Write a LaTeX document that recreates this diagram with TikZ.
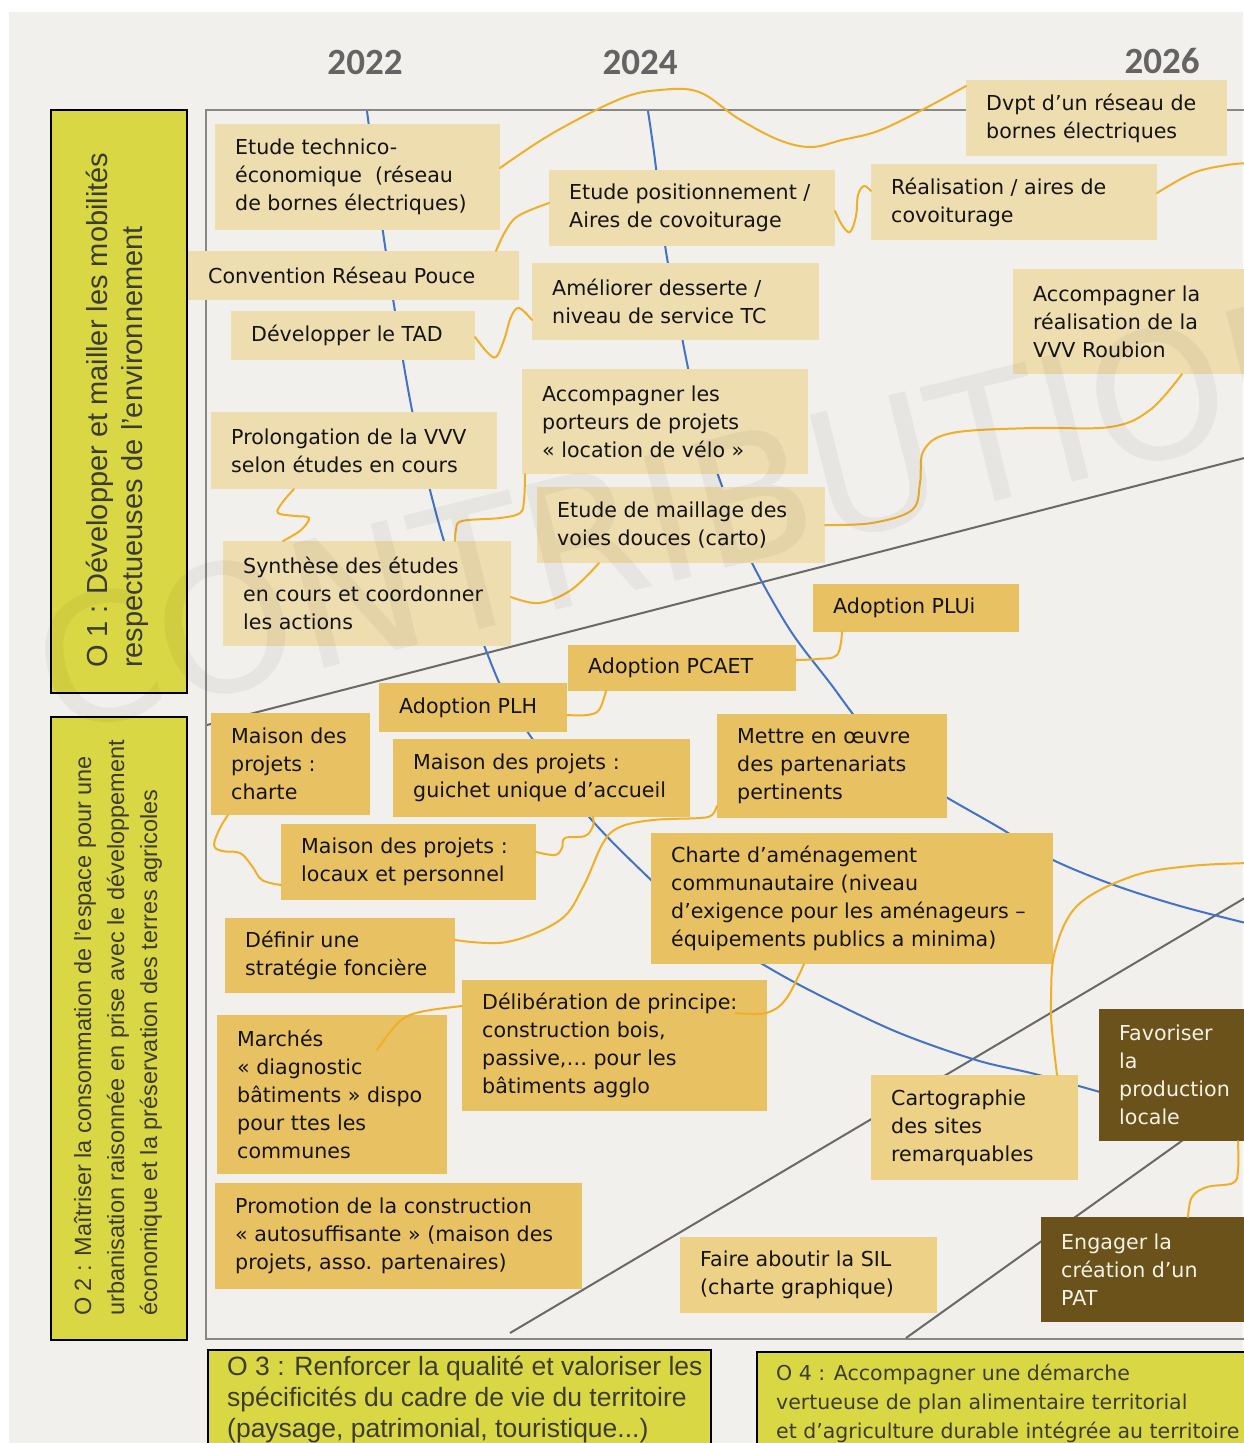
\documentclass[tikz,border=0pt]{standalone}
\usepackage{fontspec}
\setmainfont{DejaVu Sans}
\newfontfamily\libsans{Liberation Sans}
\newfontfamily\carlito{Carlito}
\usetikzlibrary{fit}
\definecolor{cbg}{RGB}{241,240,236}
\definecolor{cbeige}{RGB}{238,221,175}
\definecolor{cgold}{RGB}{232,193,98}
\definecolor{clgold}{RGB}{236,209,134}
\definecolor{cbrown}{RGB}{106,82,26}
\definecolor{cobj}{RGB}{218,215,68}
\definecolor{cobjtext}{RGB}{60,60,50}
\definecolor{corange}{RGB}{240,175,40}
\definecolor{cblue}{RGB}{68,114,196}
\definecolor{cgrayl}{RGB}{105,105,105}
\definecolor{cyear}{RGB}{100,100,100}
\definecolor{ctext}{RGB}{20,20,20}
\definecolor{cwtext}{RGB}{245,242,230}
\tikzset{
  box/.style={inner sep=0pt, outer sep=0pt, draw=none},
  beige/.style={box, fill=cbeige},
  gold/.style={box, fill=cgold},
  lgold/.style={box, fill=clgold},
  brown/.style={box, fill=cbrown},
  txt/.style={anchor=west, inner sep=0pt, align=left, font=\fontsize{20.6}{28}\selectfont, text=ctext},
  wtxt/.style={txt, text=cwtext},
  orng/.style={draw=corange, line width=2pt, line cap=round},
  bluel/.style={draw=cblue, line width=2pt},
  grayl/.style={draw=cgrayl, line width=2pt},
  objbox/.style={fill=cobj, draw=black, line width=2pt, inner sep=0pt},
  objtxt/.style={inner sep=0pt, align=left, text=cobjtext},
  year/.style={font=\carlito\bfseries\fontsize{37}{40}\selectfont, text=cyear, inner sep=0pt},
}
\newcommand\tbox[6]{%
  \node[#2, fit={#4 #5}] (#1) {};
  \node[#3] (#1t) at ([xshift=20pt]#1.west) {#6};
}
\begin{document}
\begin{tikzpicture}[x=1pt,y=-1pt]
\useasboundingbox (0,0) rectangle (1243,1443);
\fill[white] (0,0) rectangle (1243,1443);
\fill[cbg] (9,12) rectangle (1243,1443);

% frame
\draw[draw=cgrayl!80, line width=2pt] (206,110) rectangle (1300,1339);

% gray dividing lines
\draw[grayl] (207,725) -- (1260,454);
\draw[grayl] (510,1333) -- (1260,889);
\draw[grayl] (906,1338) -- (1260,1085);

% blue year curves
\draw[bluel] plot[smooth, tension=0.55] coordinates {(367,111) (383,232) (398,330) (412,410) (430,490) (450,560) (478,630) (505,695) (540,750) (590,818) (651,880) (700,925) (764,965) (817,994) (897,1032) (976,1060) (1035,1074) (1100,1092)};
\draw[bluel] plot[smooth, tension=0.55] coordinates {(648,111) (655,160) (665,245) (675,300) (688,368) (700,420) (718,475) (735,520) (752,563) (790,630) (830,683) (870,735) (920,780) (946,797) (1000,828) (1051,859) (1114,885) (1180,906) (1250,924)};

% O1 boxes
\tbox{tech}{beige}{txt}{(215,124)}{(500,230)}{Etude technico-\\économique\ \ (réseau\\de bornes électriques)}
\tbox{conv}{beige}{txt}{(188,251)}{(519,300)}{Convention Réseau Pouce}
\tbox{tad}{beige}{txt}{(231,311)}{(475,360)}{Développer le TAD}
\tbox{prol}{beige}{txt}{(211,412)}{(497,489)}{Prolongation de la VVV\\selon études en cours}
\tbox{synth}{beige}{txt}{(223,541)}{(511,646)}{Synthèse des études\\en cours et coordonner\\les actions}
\tbox{etpos}{beige}{txt}{(549,170)}{(835,246)}{Etude positionnement /\\Aires de covoiturage}
\tbox{amel}{beige}{txt}{(532,263)}{(819,340)}{Améliorer desserte /\\niveau de service TC}
\tbox{porteurs}{beige}{txt}{(522,369)}{(808,474)}{Accompagner les\\porteurs de projets\\« location de vélo »}
\tbox{maillage}{beige}{txt}{(537,487)}{(825,563)}{Etude de maillage des\\voies douces (carto)}
\tbox{dvpt}{beige}{txt}{(966,80)}{(1227,156)}{Dvpt d’un réseau de\\bornes électriques}
\tbox{real}{beige}{txt}{(871,164)}{(1157,240)}{Réalisation / aires de\\covoiturage}
\tbox{roubion}{beige}{txt}{(1013,269)}{(1260,374)}{Accompagner la\\réalisation de la\\VVV Roubion}

% O2 boxes
\tbox{plui}{gold}{txt}{(813,584)}{(1019,632)}{Adoption PLUi}
\tbox{pcaet}{gold}{txt}{(568,645)}{(796,691)}{Adoption PCAET}
\tbox{plh}{gold}{txt}{(379,683)}{(567,732)}{Adoption PLH}
\tbox{mcharte}{gold}{txt}{(211,713)}{(370,815)}{Maison des\\projets :\\charte}
\tbox{guichet}{gold}{txt}{(393,739)}{(690,817)}{Maison des projets :\\guichet unique d’accueil}
\tbox{mettre}{gold}{txt}{(717,714)}{(947,818)}{Mettre en œuvre\\des partenariats\\pertinents}
\tbox{locaux}{gold}{txt}{(281,824)}{(536,900)}{Maison des projets :\\locaux et personnel}
\tbox{charte}{gold}{txt}{(651,833)}{(1053,964)}{Charte d’aménagement\\communautaire (niveau\\d’exigence pour les aménageurs –\\équipements publics a minima)}
\tbox{defin}{gold}{txt}{(225,918)}{(455,993)}{Définir une\\stratégie foncière}
\tbox{delib}{gold}{txt}{(462,980)}{(767,1111)}{Délibération de principe:\\construction bois,\\passive,… pour les\\bâtiments agglo}
\tbox{marches}{gold}{txt}{(217,1015)}{(447,1174)}{Marchés\\« diagnostic\\bâtiments » dispo\\pour ttes les\\communes}
\tbox{promo}{gold}{txt}{(215,1183)}{(582,1289)}{Promotion de la construction\\« autosuffisante » (maison des\\projets, asso. partenaires)}

% O3 boxes
\tbox{carto}{lgold}{txt}{(871,1075)}{(1078,1180)}{Cartographie\\des sites\\remarquables}
\tbox{sil}{lgold}{txt}{(680,1237)}{(937,1313)}{Faire aboutir la SIL\\(charte graphique)}

% O4 boxes
\tbox{favor}{brown}{wtxt}{(1099,1009)}{(1260,1141)}{Favoriser\\la\\production\\locale}
\tbox{engager}{brown}{wtxt}{(1041,1217)}{(1260,1322)}{Engager la\\création d’un\\PAT}

% orange links
\coordinate (oStart) at (377,1050);
\coordinate (pStart) at (735,1013);
\coordinate (qEnd) at (1250,863);
\coordinate (dEnd) at (1250,163);
\draw[orng] plot[smooth, tension=0.6] coordinates {(tech.east |- 0,168) (553,133) (620,99) (660,90) (699,92) (739,119) (779,140) (811,147) (842,140) (878,131) (922,110) (dvpt.west |- 0,86)};
\draw[orng] plot[smooth, tension=0.6] coordinates {(conv.north -| 496,0) (505,232) (518,216) (etpos.west |- 0,203)};
\draw[orng] plot[smooth, tension=0.6] coordinates {(etpos.east |- 0,211) (842,225) (850,232) (856,216) (858,195) (864,186) (real.west |- 0,191)};
\draw[orng] plot[smooth, tension=0.6] coordinates {(real.east |- 0,193) (1193,173) (1227,165) (dEnd)};
\draw[orng] plot[smooth, tension=0.6] coordinates {(tad.east |- 0,337) (487,352) (496,357) (504,340) (511,317) (519,308) (amel.west |- 0,320)};
\draw[orng] plot[smooth, tension=0.6] coordinates {(prol.south -| 294,0) (282,503) (278,513) (295,516) (309,518) (301,530) (synth.north -| 283,0)};
\draw[orng] plot[smooth, tension=0.6] coordinates {(porteurs.south -| 525,0) (524,500) (520,513) (500,518) (462,521) (456,530) (synth.north -| 455,0)};
\draw[orng] plot[smooth, tension=0.6] coordinates {(synth.east |- 0,597) (539,603) (571,590) (maillage.south -| 599,0)};
\draw[orng] plot[smooth, tension=0.6] coordinates {(maillage.east |- 0,525) (872,523) (912,510) (920,483) (924,450) (952,433) (1031,428) (1110,427) (1150,410) (roubion.south -| 1182,0)};
\draw[orng] plot[smooth, tension=0.6] coordinates {(plui.south -| 842,0) (837,655) (817,659) (pcaet.east |- 0,660)};
\draw[orng] plot[smooth, tension=0.6] coordinates {(pcaet.south -| 606,0) (599,710) (587,715) (plh.east |- 0,715)};
\draw[orng] plot[smooth, tension=0.6] coordinates {(mcharte.south -| 228,0) (220,828) (214,845) (222,851) (240,853) (252,866) (262,880) (locaux.west |- 0,885)};
\draw[orng] plot[smooth, tension=0.6] coordinates {(locaux.east |- 0,852) (555,855) (562,848) (565,838) (585,836) (593,826) (guichet.south -| 593,0)};
\draw[orng] plot[smooth, tension=0.6] coordinates {(defin.east |- 0,940) (507,942) (560,920) (583,887) (603,843) (620,827) (653,820) (700,818) (712,815) (mettre.west |- 0,806)};
\draw[orng] plot[smooth, tension=0.6] coordinates {(oStart) (399,1022) (420,1012) (delib.west |- 0,1006)};
\draw[orng] plot[smooth, tension=0.6] coordinates {(pStart) (766,1013) (786,999) (charte.south -| 804,0)};
\draw[orng] plot[smooth, tension=0.6] coordinates {(carto.north -| 1057,0) (1052,1030) (1051,1000) (1055,951) (1078,905) (1133,876) (1190,866) (qEnd)};
\draw[orng] plot[smooth, tension=0.6] coordinates {(favor.south -| 1238,0) (1238,1170) (1233,1183) (1207,1187) (1192,1197) (engager.north -| 1188,0)};

% objective boxes
\node[objbox, fit={(51,110) (187,693)}] (o1) {};
\node[objtxt, rotate=90, anchor=west, font=\libsans\fontsize{29}{35}\selectfont] (o1t) at (117,668) {O 1 : Développer et mailler les mobilités\\respectueuses de l’environnement};
\node[objbox, fit={(51,717) (187,1340)}] (o2) {};
\node[objtxt, rotate=90, anchor=west, font=\libsans\fontsize{23.5}{33}\selectfont] (o2t) at (118,1316) {O 2 : Maîtriser la consommation de l’espace pour une\\urbanisation raisonnée en prise avec le développement\\économique et la préservation des terres agricoles};
\node[objbox, fit={(208,1350) (711,1470)}] (o3) {};
\node[objtxt, anchor=north west, font=\libsans\fontsize{26.5}{31}\selectfont] (o3t) at (227,1356) {O 3 : Renforcer la qualité et valoriser les\\spécificités du cadre de vie du territoire\\(paysage, patrimonial, touristique...)};
\node[objbox, fit={(757,1352) (1270,1470)}] (o4) {};
\node[objtxt, anchor=north west, font=\fontsize{20.5}{29}\selectfont] (o4t) at (776,1364) {O 4 : Accompagner une démarche\\vertueuse de plan alimentaire territorial\\et d’agriculture durable intégrée au territoire};

% years
\node[year] (y22) at (365,62) {2022};
\node[year] (y24) at (640,62) {2024};
\node[year] (y26) at (1162,61) {2026};

% watermark
\node[inner sep=0pt, rotate=14, anchor=base west, font=\fontsize{176}{176}\selectfont, text=black, text opacity=0.045] (wm) at (54,736) {CONTRIBUTION};
\end{tikzpicture}
\end{document}
